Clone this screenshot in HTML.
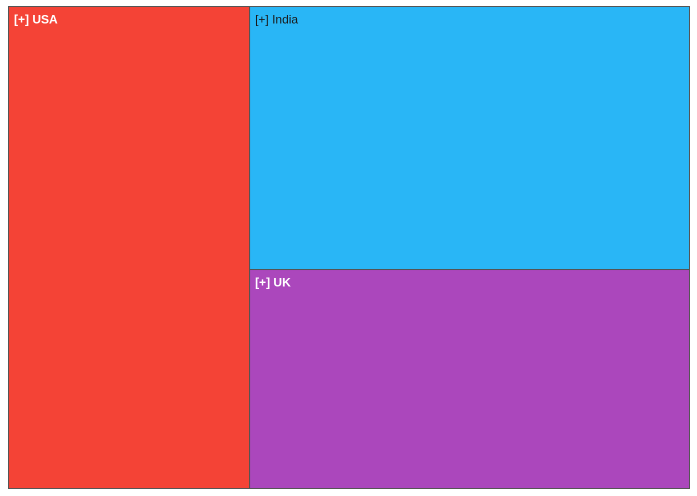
<!DOCTYPE html>
<html><head><meta charset="utf-8"><style>
html,body{margin:0;padding:0;background:#fff;}
svg{display:block;font-family:"Liberation Sans",sans-serif;}
</style></head><body>
<svg id="chart" width="697" height="496"></svg>
<script>
const categories = ["USA", "India", "UK"];
const values = [35.4, 35.25, 29.35];
const colors = ["#f44336", "#29b6f6", "#ab47bc"];
const textColors = ["#ffffff", "#1a1a1a", "#ffffff"];

const svg = document.getElementById('chart');
const NS = 'http://www.w3.org/2000/svg';
const X0 = 8.5, Y0 = 6.5, W = 681, H = 482;
const total = values.reduce((a, b) => a + b, 0);
// First item takes a vertical slice, rest stacked vertically
const rects = [];
const w0 = W * values[0] / total;
rects.push([X0, Y0, w0, H]);
const restTotal = total - values[0];
let y = Y0;
for (let i = 1; i < values.length; i++) {
  const h = H * values[i] / restTotal;
  rects.push([X0 + w0, y, W - w0, h]);
  y += h;
}
rects.forEach((r, i) => {
  const g = document.createElementNS(NS, 'g');
  
  
  const rc = document.createElementNS(NS, 'rect');
  rc.setAttribute('x', r[0]); rc.setAttribute('y', r[1]);
  rc.setAttribute('width', r[2]); rc.setAttribute('height', r[3]);
  rc.setAttribute('fill', colors[i]);
  rc.setAttribute('stroke', '#555'); rc.setAttribute('stroke-width', '1');
  g.appendChild(rc);
  const t = document.createElementNS(NS, 'text');
  
  
  t.setAttribute('x', r[0] + 5.5); t.setAttribute('y', r[1] + 17);
  t.setAttribute('font-size', '12');
  t.setAttribute('fill', textColors[i]);
  if (i !== 1) t.setAttribute('font-weight', 'bold');
  t.textContent = '[+] ' + categories[i];
  g.appendChild(t);
  svg.appendChild(g);
});
</script>
</body></html>
